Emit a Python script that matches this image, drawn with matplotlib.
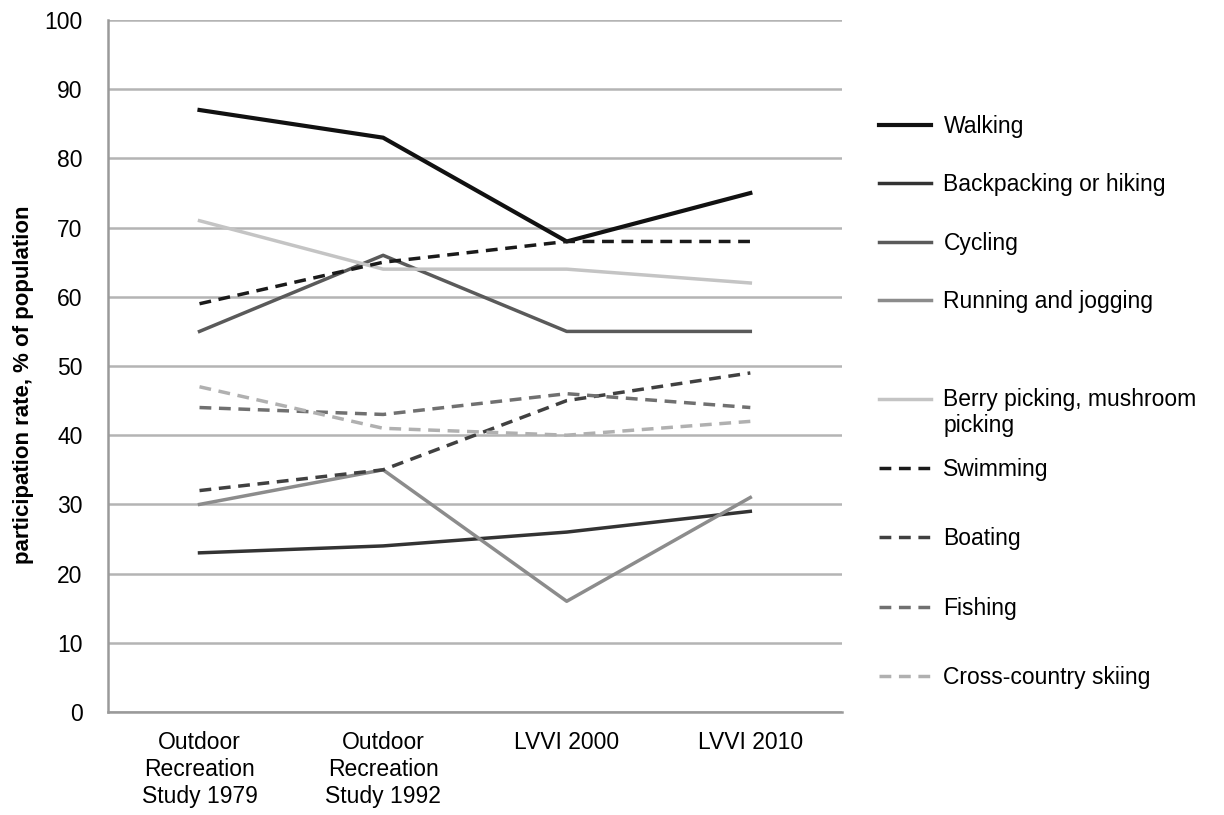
import matplotlib
matplotlib.use("Agg")
import matplotlib.pyplot as plt
from matplotlib.legend_handler import HandlerLine2D
import numpy as np

plt.rcParams["font.family"] = ["Liberation Sans", "DejaVu Sans"]

# data
categories = ["Outdoor\nRecreation\nStudy 1979", "Outdoor\nRecreation\nStudy 1992",
              "LVVI 2000", "LVVI 2010"]
walking = [87, 83, 68, 75]
backpacking = [23, 24, 26, 29]
cycling = [55, 66, 55, 55]
running = [30, 35, 16, 31]
berry = [71, 64, 64, 62]
swimming = [59, 65, 68, 68]
boating = [32, 35, 45, 49]
fishing = [44, 43, 46, 44]
skiing = [47, 41, 40, 42]

series = [
    ("Walking", walking, "#111111", "-"),
    ("Backpacking or hiking", backpacking, "#333333", "-"),
    ("Cycling", cycling, "#5a5a5a", "-"),
    ("Running and jogging", running, "#8c8c8c", "-"),
    ("Berry picking, mushroom\npicking", berry, "#c4c4c4", "-"),
    ("Swimming", swimming, "#1a1a1a", "--"),
    ("Boating", boating, "#404040", "--"),
    ("Fishing", fishing, "#707070", "--"),
    ("Cross-country skiing", skiing, "#b0b0b0", "--"),
]

FS = 16.5


class FirstLineHandler(HandlerLine2D):
    """Put the legend line next to the first text line of a two-line label."""
    def create_artists(self, legend, orig_handle, xdescent, ydescent, width, height,
                       fontsize, trans):
        arts = super().create_artists(legend, orig_handle, xdescent, ydescent, width,
                                      height, fontsize, trans)
        for a in arts:
            a.set_ydata(np.asarray(a.get_ydata()) + 0.62 * fontsize)
        return arts


fig = plt.figure(figsize=(12.24, 8.15), dpi=100)
ax = fig.add_axes([0.088, 0.1264, 0.600, 0.849])

x = np.arange(len(categories))
lines = []
for label, vals, color, ls in series:
    ln, = ax.plot(x, vals, color=color, ls=ls, lw=3.0 if label == "Walking" else 2.5,
                  label=label, dashes=(3.4, 2.2) if ls == "--" else (None, None))
    lines.append(ln)

ax.set_xlim(-0.5, len(categories) - 0.5)
ax.set_ylim(0, 100)
ax.set_yticks(np.arange(0, 101, 10))
ax.set_xticks(x)
ax.set_xticklabels(categories, fontsize=FS, linespacing=1.2)
ax.tick_params(axis="y", labelsize=FS, length=0, pad=18)
ax.tick_params(axis="x", length=0, pad=14)
ax.yaxis.grid(True, color="#b4b4b4", lw=1.8)
ax.set_axisbelow(True)
for side in ("top", "right"):
    ax.spines[side].set_visible(False)
for side in ("left", "bottom"):
    ax.spines[side].set_color("#9a9a9a")
    ax.spines[side].set_linewidth(1.8)
ax.set_ylabel("participation rate, % of population", fontsize=16, fontweight="bold")
ax.yaxis.set_label_coords(-0.10, 0.473)

# legend in three blocks to follow the uneven spacing of the original
leg_kw = dict(loc="upper left", frameon=False, fontsize=FS, handlelength=2.25,
              handletextpad=0.55, borderpad=0)
leg1 = ax.legend(handles=lines[:4], bbox_to_anchor=(1.035, 0.88), labelspacing=1.55,
                 **leg_kw)
ax.add_artist(leg1)
leg2 = ax.legend(handles=lines[4:5], bbox_to_anchor=(1.035, 0.485),
                 handler_map={lines[4]: FirstLineHandler()}, **leg_kw)
ax.add_artist(leg2)
ax.legend(handles=lines[5:], bbox_to_anchor=(1.035, 0.384), labelspacing=2.03, **leg_kw)

fig.savefig("out.png", dpi=100)
